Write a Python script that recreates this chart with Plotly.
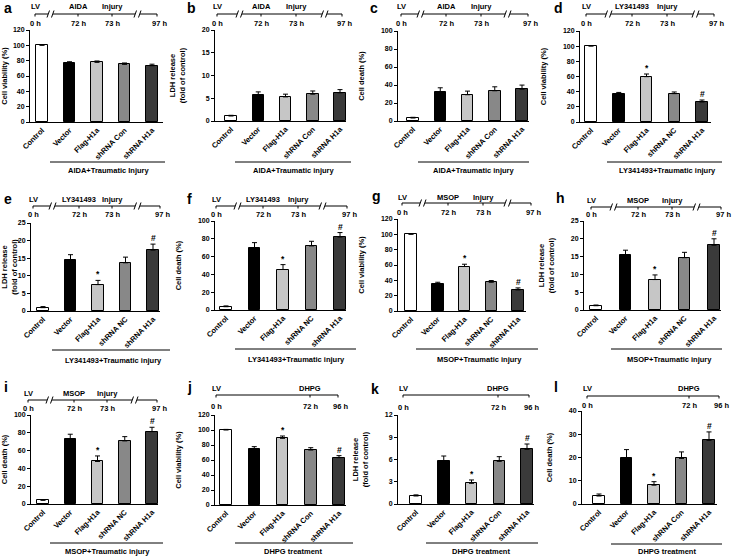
import plotly.graph_objects as go

W, H = 732, 557

# ---------------- data ----------------
cats_con = ["Control", "Vector", "Flag-H1a", "shRNA Con", "shRNA H1a"]
cats_nc = ["Control", "Vector", "Flag-H1a", "shRNA NC", "shRNA H1a"]
bar_colors = ["#ffffff", "#000000", "#c6c6c6", "#888888", "#3a3a3a"]

a_mean = [100, 76.5, 77.8, 75.2, 73.4]
a_err = [0.8, 2.1, 1.8, 1.8, 2.0]
b_mean = [1.1, 5.7, 5.3, 5.9, 6.2]
b_err = [0.15, 0.7, 0.6, 0.7, 0.7]
c_mean = [3.3, 32.5, 29.2, 33.6, 35.4]
c_err = [0.8, 4.4, 4.0, 4.4, 4.5]
d_mean = [100, 36.5, 59.8, 37.4, 26.4]
d_err = [0.8, 2.5, 3.5, 2.2, 2.6]
e_mean = [0.95, 14.4, 7.5, 13.7, 17.3]
e_err = [0.3, 1.6, 1.2, 1.6, 1.7]
f_mean = [3.7, 70.1, 45.5, 72.0, 82.0]
f_err = [0.9, 5.6, 5.5, 5.2, 5.0]
g_mean = [100, 34.9, 58.0, 37.5, 27.5]
g_err = [0.8, 2.6, 3.0, 2.2, 2.6]
h_mean = [1.2, 15.4, 8.55, 14.7, 18.2]
h_err = [0.2, 1.4, 1.3, 1.5, 1.8]
i_mean = [4.1, 73.1, 47.8, 70.9, 81.3]
i_err = [0.9, 5.3, 6.2, 4.8, 4.9]
j_mean = [100, 74.2, 88.9, 73.3, 63.1]
j_err = [0.8, 3.6, 3.1, 3.1, 2.7]
k_mean = [1.08, 5.84, 2.79, 5.75, 7.37]
k_err = [0.15, 0.63, 0.45, 0.63, 0.72]
l_mean = [3.43, 20.0, 8.1, 19.6, 27.4]
l_err = [0.87, 3.4, 1.5, 2.8, 3.6]

no_marks = ["", "", "", "", ""]
sig_marks = ["", "", "*", "", "#"]

yt_via = "Cell viability (%)"
yt_ldh = "LDH release<br>(fold of control)"
yt_death = "Cell death (%)"

ticks_120 = [0, 20, 40, 60, 80, 100, 120]
ticks_100 = [0, 20, 40, 60, 80, 100]
ticks_25 = [0, 5, 10, 15, 20, 25]
ticks_20 = [0, 5, 10, 15, 20]
ticks_12 = [0, 3, 6, 9, 12]
ticks_40 = [0, 10, 20, 30, 40]

# ---------------- panel layout (pixels, relative to panel cell origin) ----------------
panels = [
    dict(L="a", o=(0, 0), m=a_mean, e=a_err, cats=cats_con, marks=no_marks, yt=yt_via, ticks=ticks_120,
         axL=30, top=30, bot=122, first=42, last=152, right=163,
         tl=("long", 14, 6, 24, 35, 51, 78, 112, 138, 157, "AIDA"),
         br=(162, 50, 165, 108, 170, "AIDA+Traumatic Injury"), lp=(2, 8.5)),
    dict(L="b", o=(183, 0), m=b_mean, e=b_err, cats=cats_con, marks=no_marks, yt=yt_ldh, ticks=ticks_20,
         axL=32, top=30, bot=121, first=48, last=157, right=163,
         tl=("long", 14, 6, 24, 34, 57, 78, 113, 142, 159, "AIDA"),
         br=(162, 52, 168, 110, 170, "AIDA+Traumatic injury"), lp=(2, 8.5)),
    dict(L="c", o=(366, 0), m=c_mean, e=c_err, cats=cats_con, marks=no_marks, yt=yt_death, ticks=ticks_100,
         axL=32, top=31, bot=121, first=47, last=156, right=163,
         tl=("long", 14, 6, 24, 35, 55, 80, 115, 142, 162, "AIDA"),
         br=(162, 52, 163, 107, 170, "AIDA+Traumatic injury"), lp=(2, 8.5)),
    dict(L="d", o=(549, 0), m=d_mean, e=d_err, cats=cats_nc, marks=sig_marks, yt=yt_via, ticks=ticks_120,
         axL=31, top=31, bot=122, first=42, last=153, right=162,
         tl=("long", 14, 6, 24, 37, 60, 83, 118, 147, 165, "LY341493"),
         br=(162, 58, 173, 118, 170, "LY341493+Traumatic injury"), lp=(3, 8.5)),
    dict(L="e", o=(0, 185), m=e_mean, e=e_err, cats=cats_nc, marks=sig_marks, yt=yt_ldh, ticks=ticks_25,
         axL=31, top=38, bot=126, first=43, last=153, right=160,
         tl=("long", 21, 14, 29, 33, 53, 79, 112, 138, 160, "LY341493"),
         br=(165, 52, 170, 113, 175, "LY341493+Traumatic injury"), lp=(2, 14)),
    dict(L="f", o=(183, 185), m=f_mean, e=f_err, cats=cats_nc, marks=sig_marks, yt=yt_death, ticks=ticks_100,
         axL=32, top=36, bot=125, first=43, last=157, right=163,
         tl=("long", 21, 14, 29, 33, 55, 80, 115, 140, 164, "LY341493"),
         br=(164, 52, 173, 113, 174, "LY341493+Traumatic injury"), lp=(2, 14)),
    dict(L="g", o=(366, 185), m=g_mean, e=g_err, cats=cats_nc, marks=sig_marks, yt=yt_via, ticks=ticks_120,
         axL=32, top=34, bot=126, first=45, last=152, right=160,
         tl=("long", 18, 12, 27, 36, 57, 82, 117, 142, 165, "MSOP"),
         br=(164, 50, 172, 113, 174, "MSOP+Traumatic injury"), lp=(4, 11)),
    dict(L="h", o=(549, 185), m=h_mean, e=h_err, cats=cats_nc, marks=sig_marks, yt=yt_ldh, ticks=ticks_25,
         axL=35, top=36, bot=125, first=47, last=165, right=172,
         tl=("long", 22, 15, 29, 42, 65, 89, 123, 148, 172, "MSOP"),
         br=(164, 62, 173, 120, 174, "MSOP+Traumatic injury"), lp=(5, 13)),
    dict(L="i", o=(0, 370), m=i_mean, e=i_err, cats=cats_nc, marks=sig_marks, yt=yt_death, ticks=ticks_100,
         axL=31, top=45, bot=134, first=43, last=152, right=158,
         tl=("long", 30, 23, 38, 28, 50, 74, 107, 135, 157, "MSOP"),
         br=(173, 50, 163, 107, 181, "MSOP+Traumatic injury"), lp=(2, 17)),
    dict(L="j", o=(183, 370), m=j_mean, e=j_err, cats=cats_con, marks=sig_marks, yt=yt_via, ticks=ticks_120,
         axL=32, top=45, bot=135, first=43, last=156, right=163,
         tl=("short", 25, 18, 36, 33, 127, 155, "DHPG"),
         br=(173, 52, 170, 110, 181, "DHPG treatment"), lp=(2, 17)),
    dict(L="k", o=(366, 370), m=k_mean, e=k_err, cats=cats_con, marks=sig_marks, yt=yt_ldh, ticks=ticks_12,
         axL=32, top=45, bot=134, first=50, last=161, right=168,
         tl=("short", 25, 19, 37, 37, 132, 163, "DHPG"),
         br=(173, 60, 172, 115, 181, "DHPG treatment"), lp=(3, 19)),
    dict(L="l", o=(549, 370), m=l_mean, e=l_err, cats=cats_con, marks=sig_marks, yt=yt_death, ticks=ticks_40,
         axL=33, top=41, bot=134, first=50, last=160, right=168,
         tl=("short", 26, 18, 35, 38, 140, 170, "DHPG"),
         br=(174, 62, 173, 118, 181, "DHPG treatment"), lp=(3, 17)),
]

FONT = "Liberation Sans, Arial, sans-serif"


def px(x):
    return x / W


def py(y):
    return 1 - y / H


fig = go.Figure()
shapes = []
annots = []


def line(x0, y0, x1, y1, w=1):
    shapes.append(dict(type="line", xref="paper", yref="paper",
                       x0=px(x0), y0=py(y0), x1=px(x1), y1=py(y1),
                       line=dict(color="black", width=w)))


def text(x, y, s, size=7.5, bold=True, xanchor="center", yanchor="middle"):
    annots.append(dict(xref="paper", yref="paper", x=px(x), y=py(y), text=s, showarrow=False,
                       xanchor=xanchor, yanchor=yanchor,
                       font=dict(family=FONT, size=size, color="black", weight="bold" if bold else "normal")))


def brk(x, y):
    # "//" break mark
    line(x - 4, y + 3.5, x - 1.5, y - 3.5)
    line(x + 0.5, y + 3.5, x + 3, y - 3.5)


for n, p in enumerate(panels, start=1):
    ox, oy = p["o"]
    s = (p["last"] - p["first"]) / 4.0
    lo = -(p["first"] - p["axL"]) / s
    hi = 4 + (p["right"] - p["last"]) / s
    xs = list(range(5))
    xa = "x" if n == 1 else f"x{n}"
    ya = "y" if n == 1 else f"y{n}"
    fig.add_trace(go.Bar(
        x=xs, y=p["m"], xaxis=xa, yaxis=ya, width=11.5 / s,
        marker=dict(color=bar_colors, line=dict(color="black", width=1)),
        error_y=dict(type="data", symmetric=False, array=p["e"], arrayminus=[0] * 5,
                     color="black", thickness=1, width=2.5),
        showlegend=False, hoverinfo="skip"))
    xkey = "xaxis" if n == 1 else f"xaxis{n}"
    ykey = "yaxis" if n == 1 else f"yaxis{n}"
    fig.layout[xkey] = dict(
        domain=[px(ox + p["axL"]), px(ox + p["right"])], range=[lo, hi], anchor=ya,
        tickmode="array", tickvals=xs, ticktext=p["cats"], tickangle=-45, automargin=False,
        showline=True, linecolor="black", linewidth=1, ticks="", showgrid=False, zeroline=False,
        tickfont=dict(family=FONT, size=7.5, color="black", weight="bold"), fixedrange=True)
    ymax = p["ticks"][-1]
    fig.layout[ykey] = dict(
        domain=[py(oy + p["bot"]), py(oy + p["top"])], range=[0, ymax], anchor=xa,
        tickmode="array", tickvals=p["ticks"], automargin=False,
        showline=True, linecolor="black", linewidth=1, ticks="outside", ticklen=3, tickwidth=1,
        tickcolor="black", showgrid=False, zeroline=False,
        tickfont=dict(family=FONT, size=7, color="black", weight="bold"),
        title=dict(text=p["yt"], font=dict(family=FONT, size=7.5, color="black", weight="bold")),
        fixedrange=True)
    # significance marks
    for xi, (mk, mv, ev) in enumerate(zip(p["marks"], p["m"], p["e"])):
        if mk:
            annots.append(dict(xref=xa, yref=ya, x=xi, y=mv + ev, text=mk, showarrow=False,
                               yanchor="bottom", yshift=-1,
                               font=dict(family=FONT, size=8.5, color="black", weight="bold")))
    # panel letter
    text(ox + p["lp"][0], oy + p["lp"][1], p["L"], size=14, bold=True, xanchor="left")
    # timeline
    tl = p["tl"]
    if tl[0] == "long":
        _, ly, lvy, hy, st, b1, t72, t73, b2, en, drug = tl
        ly += oy; lvy += oy; hy += oy
        line(ox + st, ly, ox + b1 - 3, ly)
        line(ox + b1 + 2, ly, ox + b2 - 3, ly)
        line(ox + b2 + 2, ly, ox + en, ly)
        brk(ox + b1, ly)
        brk(ox + b2, ly)
        for tx in (st, t72, t73, en):
            line(ox + tx, ly, ox + tx, ly + 2.5)
        text(ox + st, lvy, "LV")
        text(ox + t72, lvy, drug)
        text(ox + t73, lvy, "Injury")
        text(ox + st, hy, "0 h")
        text(ox + t72, hy, "72 h")
        text(ox + t73, hy, "73 h")
        text(ox + en + 2, hy, "97 h")
    else:
        _, ly, lvy, hy, st, t72, en, drug = tl
        ly += oy; lvy += oy; hy += oy
        line(ox + st, ly, ox + en, ly)
        for tx in (st, t72, en):
            line(ox + tx, ly, ox + tx, ly + 2.5)
        text(ox + st, lvy, "LV")
        text(ox + t72, lvy, drug)
        text(ox + st, hy, "0 h")
        text(ox + t72, hy, "72 h")
        text(ox + en + 2, hy, "96 h")
    # group bracket
    by, bx0, bx1, btx, bty, btxt = p["br"]
    line(ox + bx0, oy + by, ox + bx1, oy + by)
    text(ox + btx, oy + bty, btxt)

fig.update_layout(width=W, height=H, margin=dict(l=0, r=0, t=0, b=0, autoexpand=False),
                  paper_bgcolor="white", plot_bgcolor="white",
                  shapes=shapes, annotations=annots, bargap=0,
                  font=dict(family=FONT, color="black"))

fig.write_html("out.html", config=dict(displayModeBar=False),
               post_script="document.body.style.margin='0';document.body.style.overflow='hidden';")
